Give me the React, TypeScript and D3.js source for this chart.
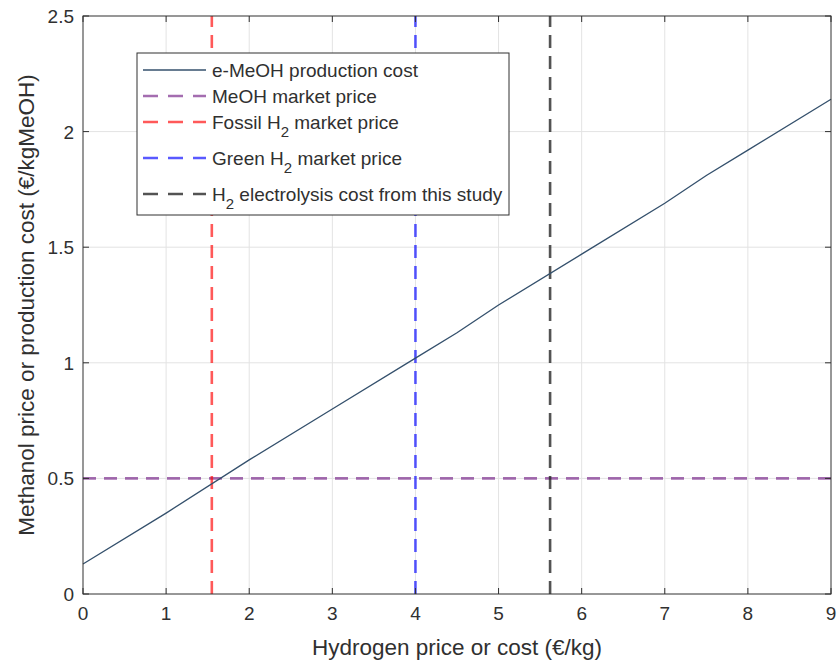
import React, { useRef, useEffect } from 'react';
import * as d3 from 'd3';

// e-MeOH production cost vs hydrogen price
const h2Price = [0, 1, 2, 3, 4, 4.5, 5, 6, 7, 7.5, 8, 9];
const meohCost = [0.13, 0.35, 0.58, 0.8, 1.02, 1.13, 1.25, 1.47, 1.69, 1.81, 1.92, 2.14];

const meohMarket = 0.5;
const fossilH2 = 1.55;
const greenH2 = 4;
const studyH2 = 5.62;

const xTicks = [0, 1, 2, 3, 4, 5, 6, 7, 8, 9];
const yTicks = [0, 0.5, 1, 1.5, 2, 2.5];

const legendItems = [
  { label: 'e-MeOH production cost', color: '#34506c', dash: false },
  { label: 'MeOH market price', color: 'rgba(126,47,142,0.7)', dash: true },
  { label: 'Fossil H|2| market price', color: 'rgba(255,0,0,0.65)', dash: true },
  { label: 'Green H|2| market price', color: 'rgba(0,0,255,0.65)', dash: true },
  { label: 'H|2| electrolysis cost from this study', color: 'rgba(40,40,40,0.8)', dash: true },
];

export default function App() {
  const ref = useRef<SVGSVGElement>(null);

  useEffect(() => {
    const width = 838, height = 662;
    const margin = { top: 16, right: 7, bottom: 68, left: 83 };
    const svg = d3.select(ref.current);
    svg.selectAll('*').remove();
    svg.attr('width', width).attr('height', height)
      .style('font-family', 'Liberation Sans, Arial, sans-serif');

    const x = d3.scaleLinear().domain([0, 9]).range([margin.left, width - margin.right]);
    const y = d3.scaleLinear().domain([0, 2.5]).range([height - margin.bottom, margin.top]);
    const [x0, x1] = x.range();
    const [y0, y1] = y.range();
    const ink = '#303030';

    svg.append('rect').attr('x', 0).attr('y', 0).attr('width', width).attr('height', height).attr('fill', '#fff');

    // grid
    const grid = svg.append('g').attr('stroke', '#e3e3e3').attr('stroke-width', 1);
    xTicks.slice(1, -1).forEach(t => {
      grid.append('line').attr('x1', x(t)).attr('x2', x(t)).attr('y1', y0).attr('y2', y1);
    });
    yTicks.slice(1, -1).forEach(t => {
      grid.append('line').attr('x1', x0).attr('x2', x1).attr('y1', y(t)).attr('y2', y(t));
    });

    // reference lines
    const dash = '13,8';
    svg.append('line').attr('x1', x0).attr('x2', x1).attr('y1', y(meohMarket)).attr('y2', y(meohMarket))
      .attr('stroke', legendItems[1].color).attr('stroke-width', 2.6).attr('stroke-dasharray', dash);
    [[fossilH2, legendItems[2].color], [greenH2, legendItems[3].color], [studyH2, legendItems[4].color]].forEach(([v, c]) => {
      svg.append('line').attr('x1', x(v as number)).attr('x2', x(v as number)).attr('y1', y0).attr('y2', y1)
        .attr('stroke', c as string).attr('stroke-width', 2.6).attr('stroke-dasharray', dash);
    });

    // cost line
    const line = d3.line<number>().x((d, i) => x(h2Price[i])).y(d => y(d));
    svg.append('path').datum(meohCost).attr('d', line).attr('fill', 'none')
      .attr('stroke', legendItems[0].color).attr('stroke-width', 1.3);

    // axes box
    svg.append('rect').attr('x', x0).attr('y', y1).attr('width', x1 - x0).attr('height', y0 - y1)
      .attr('fill', 'none').attr('stroke', ink).attr('stroke-width', 1);

    const ticks = svg.append('g').attr('stroke', ink).attr('stroke-width', 1);
    xTicks.forEach(t => {
      ticks.append('line').attr('x1', x(t)).attr('x2', x(t)).attr('y1', y0).attr('y2', y0 - 6);
      ticks.append('line').attr('x1', x(t)).attr('x2', x(t)).attr('y1', y1).attr('y2', y1 + 6);
    });
    yTicks.forEach(t => {
      ticks.append('line').attr('x1', x0).attr('x2', x0 + 6).attr('y1', y(t)).attr('y2', y(t));
      ticks.append('line').attr('x1', x1).attr('x2', x1 - 6).attr('y1', y(t)).attr('y2', y(t));
    });

    const labels = svg.append('g').attr('fill', ink).attr('font-size', 19);
    xTicks.forEach(t => {
      labels.append('text').attr('x', x(t)).attr('y', y0 + 26).attr('text-anchor', 'middle').text(String(t));
    });
    yTicks.forEach(t => {
      labels.append('text').attr('x', x0 - 9).attr('y', y(t) + 7).attr('text-anchor', 'end').text(String(t));
    });

    svg.append('text').attr('x', (x0 + x1) / 2).attr('y', 655).attr('text-anchor', 'middle')
      .attr('font-size', 22.5).attr('fill', ink).text('Hydrogen price or cost (€/kg)');
    svg.append('text').attr('transform', `translate(34,${(y0 + y1) / 2}) rotate(-90)`).attr('text-anchor', 'middle')
      .attr('font-size', 22.5).attr('fill', ink).text('Methanol price or production cost (€/kgMeOH)');

    // legend
    const lg = svg.append('g');
    lg.append('rect').attr('x', 137).attr('y', 53).attr('width', 372).attr('height', 162)
      .attr('fill', '#fff').attr('stroke', ink).attr('stroke-width', 1);
    const rows = [70, 96, 122, 158, 194];
    legendItems.forEach((it, i) => {
      const cy = rows[i];
      lg.append('line').attr('x1', 143).attr('x2', 206).attr('y1', cy).attr('y2', cy)
        .attr('stroke', it.color).attr('stroke-width', it.dash ? 2.6 : 1.3)
        .attr('stroke-dasharray', it.dash ? '15,10' : null);
      const txt = lg.append('text').attr('x', 212).attr('y', cy + 7).attr('font-size', 19).attr('fill', ink);
      const parts = it.label.split('|');
      let shift = 0;
      parts.forEach((p, j) => {
        if (j % 2 === 1) {
          txt.append('tspan').attr('dy', 8).attr('font-size', 15).text(p);
          shift = -8;
        } else if (p.length) {
          txt.append('tspan').attr('dy', shift).text(p);
          shift = 0;
        }
      });
    });
  }, []);

  return (
    <div>
      <svg ref={ref} style={{ display: 'block', position: 'absolute', left: 0, top: 0 }} />
    </div>
  );
}
